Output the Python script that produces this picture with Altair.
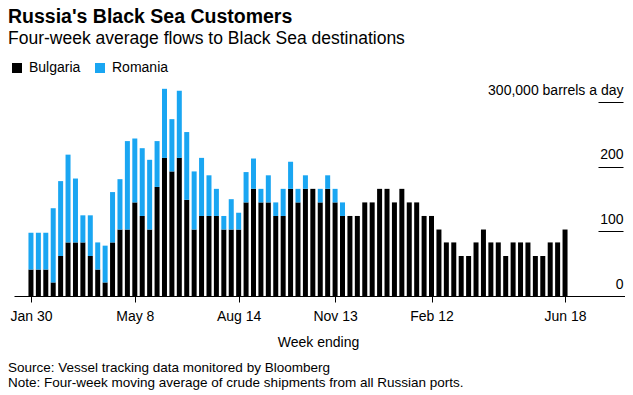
import altair as alt
import pandas as pd

# Week-ending dates (weekly, Jan 30 2017 .. Jun 18 2018)
weeks = [d.strftime("%Y-%m-%d") for d in pd.date_range("2017-01-30", "2018-06-18", freq="7D")]

# Thousand barrels a day
bulgaria = [41, 41, 41, 21, 62, 83, 83, 83, 62, 41,
            21, 83, 103, 103, 145, 124, 103, 169, 214, 193,
            214, 149, 103, 124, 124, 124, 103, 103, 103, 145,
            166, 145, 145, 124, 124, 166, 145, 166, 166, 145,
            166, 145, 124, 124, 124, 145, 145, 166, 166, 145,
            166, 145, 145, 124, 124, 103, 83, 83, 62, 62,
            83, 103, 83, 83, 62, 83, 83, 83, 62, 62,
            83, 83, 103]
romania = [57, 57, 57, 115, 116, 136, 99, 42, 63, 42,
           57, 78, 78, 137, 99, 105, 108, 71, 107, 81,
           104, 105, 90, 90, 63, 42, 21, 47, 26, 47,
           47, 21, 42, 21, 42, 42, 21, 21, 0, 21,
           21, 21, 21, 0, 0, 0, 0, 0, 0, 0,
           0, 0, 0, 0, 0, 0, 0, 0, 0, 0,
           0, 0, 0, 0, 0, 0, 0, 0, 0, 0,
           0, 0, 0]

series = ["Bulgaria", "Romania"]
colors = ["#000000", "#1aa6f2"]
tick_dates = ["2017-01-30", "2017-05-08", "2017-08-14", "2017-11-13", "2018-02-12", "2018-06-18"]
month_names = ["Jan", "Feb", "Mar", "Apr", "May", "Jun", "Jul", "Aug", "Sep", "Oct", "Nov", "Dec"]
y_ticks = [0, 100, 200, 300]

TITLE = "Russia's Black Sea Customers"
SUBTITLE = "Four-week average flows to Black Sea destinations"
SOURCE = "Source: Vessel tracking data monitored by Bloomberg"
NOTE = "Note: Four-week moving average of crude shipments from all Russian ports."

rows = []
for i, w in enumerate(weeks):
    rows.append({"week": w, "country": "Bulgaria", "flow": bulgaria[i], "ord": 0})
    rows.append({"week": w, "country": "Romania", "flow": romania[i], "ord": 1})
df = pd.DataFrame(rows)

FONT = "Liberation Sans"

def dt(s, h=0):
    y, m, d = (int(p) for p in s.split("-"))
    return alt.DateTime(year=y, month=m, date=d, hours=h, utc=True)

months_js = "[" + ",".join("'%s'" % m for m in month_names) + "]"
x_label_expr = months_js + "[utcmonth(datum.value)] + ' ' + utcdate(datum.value)"

bars = alt.Chart(df).mark_bar(size=5).encode(
    x=alt.X("week:T",
            scale=alt.Scale(type="utc", domain=[dt("2017-01-14"), dt("2018-08-13", 14)],
                            nice=False, padding=0),
            axis=alt.Axis(values=[dt(s) for s in tick_dates], labelExpr=x_label_expr,
                          title="Week ending", grid=False, tickSize=6, tickColor="#000000",
                          domainColor="#000000", labelFontSize=14, labelPadding=7,
                          labelColor="#000000", titleFontSize=14, titleFontWeight="normal",
                          titleColor="#000000", titlePadding=12, titleX=304, labelFlush=False)),
    y=alt.Y("flow:Q", stack="zero",
            scale=alt.Scale(domain=[0, 330], nice=False),
            axis=alt.Axis(orient="right", offset=-27, values=y_ticks, grid=False, domain=False,
                          tickSize=25, tickColor="#000000", labelAlign="right", labelPadding=0,
                          labelBaseline="alphabetic", labelOffset=-8, labelFontSize=14,
                          labelColor="#000000", title=None,
                          labelExpr="datum.value == 300 ? '300,000 barrels a day' : datum.label")),
    color=alt.Color("country:N", scale=alt.Scale(domain=series, range=colors),
                    legend=alt.Legend(orient="none", legendX=-4, legendY=-22, direction="horizontal",
                                      title=None, symbolType="square", symbolSize=100,
                                      symbolStrokeWidth=0, labelFontSize=14, labelColor="#000000",
                                      columnPadding=12, labelOffset=5, padding=0)),
    order=alt.Order("ord:Q", sort="ascending"),
)

footer_df = pd.DataFrame({"source": [SOURCE], "note": [NOTE]})
src = alt.Chart(footer_df).mark_text(align="left", baseline="alphabetic", fontSize=13.5,
                                     font=FONT, color="#000000").encode(
    text="source:N", x=alt.value(-6), y=alt.value(289))
note = alt.Chart(footer_df).mark_text(align="left", baseline="alphabetic", fontSize=13.5,
                                      font=FONT, color="#000000").encode(
    text="note:N", x=alt.value(-6), y=alt.value(304))

chart = alt.layer(bars, src, note).properties(
    width=611, height=213,
    title=alt.TitleParams(TITLE, subtitle=SUBTITLE, anchor="start", frame="group", dx=-6,
                          fontSize=19.5, fontWeight="bold", font=FONT, color="#000000",
                          subtitleFontSize=17.5, subtitleFont=FONT, subtitleColor="#000000",
                          subtitlePadding=2, offset=13),
    autosize=alt.AutoSizeParams(type="none"),
    padding={"left": 6, "top": 75, "right": 0, "bottom": 99},
).configure(font=FONT).configure_view(stroke=None).configure_axis(labelFont=FONT, titleFont=FONT).configure_legend(labelFont=FONT)

chart.save("out.html", embed_options={"renderer": "svg", "actions": False})
